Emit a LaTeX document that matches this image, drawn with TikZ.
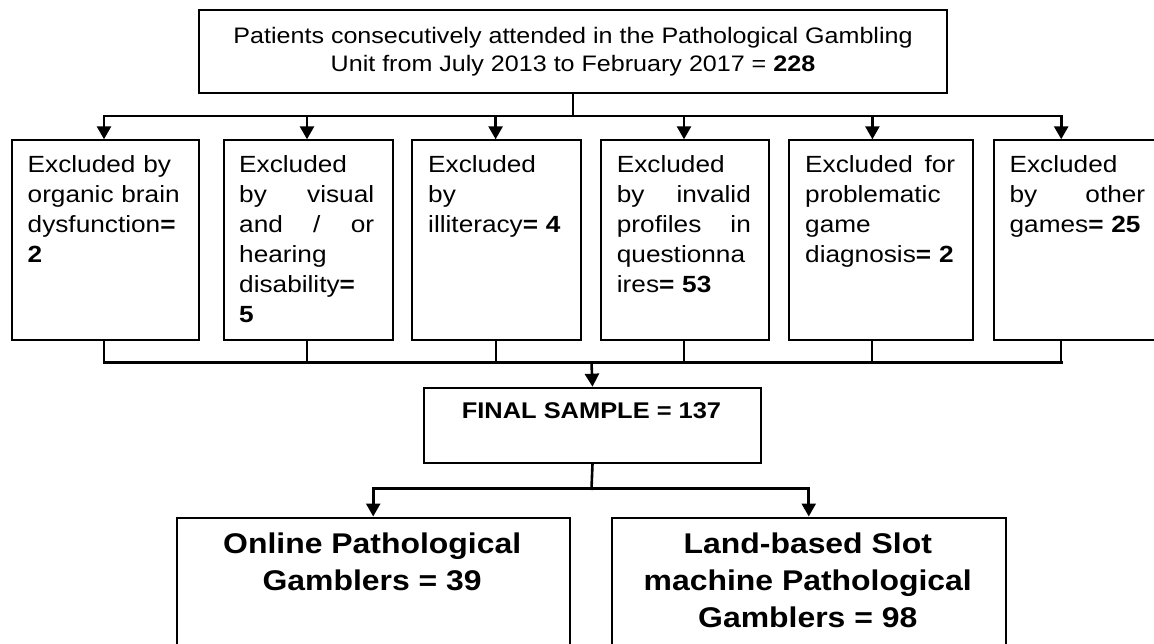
\documentclass[tikz,border=0pt]{standalone}
\usepackage{fontspec}
\setmainfont{Liberation Sans}[FakeStretch=1.12]
\usetikzlibrary{arrows.meta}
\newcommand\bxfont{\fontsize{23.4pt}{30pt}\selectfont}
\newcommand\tpfont{\fontsize{22.4pt}{28pt}\selectfont}
\newcommand\fsfont{\fontsize{22.7pt}{28pt}\selectfont\bfseries}
\newcommand\bgfont{\fontsize{28.5pt}{37pt}\selectfont\bfseries}
\newcommand\jl[2]{\makebox[#1]{#2}}
\begin{document}
\begin{tikzpicture}[x=1pt,y=-1pt,
  box/.style={draw, line width=2pt, inner sep=0pt, anchor=north west},
  conn/.style={line width=2.6pt, line cap=rect},
  stub/.style={line width=2pt},
  arr/.style={line width=2.6pt, -{Triangle[width=14pt,length=13pt]}},
  txt/.style={inner sep=0pt, anchor=north west, align=left, font=\bxfont},
]
\useasboundingbox (0,0) rectangle (1154,644);
\clip (0,0) rectangle (1154,644);

% top box
\node[draw, line width=2pt, minimum width=748pt, minimum height=82.7pt, inner sep=0pt,
      align=center, font=\tpfont] (tb) at (573,51.35)
  {Patients consecutively attended in the Pathological Gambling\\
   Unit from July 2013 to February 2017 = \textbf{228}};

% exclusion boxes
\node[box, minimum width=187.3pt, minimum height=200.2pt] (b1) at (10.7,139.3) {};
\node[box, minimum width=168.5pt, minimum height=200.2pt] (b2) at (223,139.3) {};
\node[box, minimum width=169.4pt, minimum height=200.2pt] (b3) at (410.6,139.3) {};
\node[box, minimum width=168.6pt, minimum height=200.2pt] (b4) at (599.8,139.3) {};
\node[box, minimum width=183.3pt, minimum height=200.2pt] (b5) at (788.2,139.3) {};
\node[box, minimum width=180pt, minimum height=200.2pt] (b6) at (992.7,139.3) {};

\node[txt, text width=156pt] (t1) at (27.5,155.7)
  {Excluded by\\ organic brain\\ dysfunction\textbf{=}\\ \textbf{2}};
\node[txt, text width=135pt] (t2) at (239,155.7)
  {Excluded\\ \jl{135pt}{by\hfill visual}\\ \jl{135pt}{and\hfill /\hfill or}\\ hearing\\ disability\textbf{=}\\ \textbf{5}};
\node[txt, text width=135pt] (t3) at (428,155.7)
  {Excluded\\ by\\ illiteracy\textbf{= 4}};
\node[txt, text width=134pt] (t4) at (616.7,155.7)
  {Excluded\\ \jl{134pt}{by\hfill invalid}\\ \jl{134pt}{profiles\hfill in}\\ questionna\\ ires\textbf{= 53}};
\node[txt, text width=150pt] (t5) at (805,155.7)
  {\jl{150pt}{Excluded\hfill for}\\ problematic\\ game\\ diagnosis\textbf{= 2}};
\node[txt, text width=135.6pt] (t6) at (1009.4,155.7)
  {Excluded\\ \jl{135.6pt}{by\hfill other}\\ games\textbf{= 25}};

% final sample
\node[box, minimum width=337pt, minimum height=75pt] (fs) at (423,386.7) {};
\node[inner sep=0pt, anchor=north, font=\fsfont] (fst) at (591.5,402.7) {FINAL SAMPLE = 137};

% bottom boxes
\node[box, minimum width=393pt, minimum height=150pt] (ol) at (175.7,516.5) {};
\node[box, minimum width=393.5pt, minimum height=150pt] (lb) at (611,516.5) {};
\node[inner sep=0pt, anchor=north, align=center, font=\bgfont] (olt) at (372.2,532.5)
  {Online Pathological\\ Gamblers = 39};
\node[inner sep=0pt, anchor=north, align=center, font=\bgfont] (lbt) at (807.75,532.5)
  {Land-based Slot\\ machine Pathological\\ Gamblers = 98};

% connector coordinates
\coordinate (bus1) at (573,116);
\coordinate (bus2) at (591.5,362.7);
\coordinate (bus3) at (591.5,488.7);
\coordinate (a1) at (104,139.3);
\coordinate (a2) at (307,139.3);
\coordinate (a3) at (495.6,139.3);
\coordinate (a4) at (684,139.3);
\coordinate (a5) at (872.4,139.3);
\coordinate (a6) at (1061.2,139.3);
\coordinate (s1) at (104,339.5);
\coordinate (s2) at (307,339.5);
\coordinate (s3) at (495.6,339.5);
\coordinate (s4) at (684,339.5);
\coordinate (s5) at (872.4,339.5);
\coordinate (s6) at (1061.2,339.5);

% top connectors
\draw[conn] (tb.south) -- (bus1);
\draw[conn] (a1 |- bus1) -- (a6 |- bus1);
\foreach \i in {1,...,6} {\draw[arr] (a\i |- bus1) -- (a\i);}

% lower collecting lines
\foreach \i in {1,...,6} {\draw[stub] (s\i) -- (s\i |- bus2);}
\draw[conn] (s1 |- bus2) -- (s6 |- bus2);
\draw[arr] (bus2) -- (fs.north);

% final to groups
\draw[conn] (fs.south) -- (bus3);
\draw[conn] (ol.north |- bus3) -- (lb.north |- bus3);
\draw[arr] (ol.north |- bus3) -- (ol.north);
\draw[arr] (lb.north |- bus3) -- (lb.north);
\end{tikzpicture}
\end{document}
